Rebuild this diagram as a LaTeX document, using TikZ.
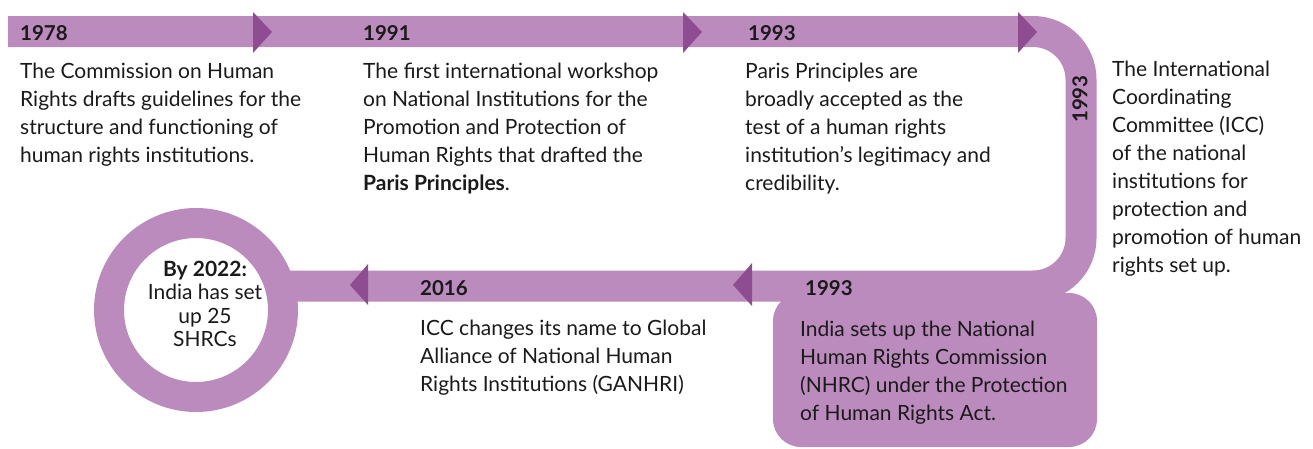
\documentclass[tikz,border=0pt]{standalone}
\usepackage{fontspec}
\setmainfont{Lato}
\definecolor{bandpurple}{RGB}{188,139,190}
\definecolor{tippurple}{RGB}{142,77,145}
\definecolor{inkgrey}{RGB}{26,26,26}

\begin{document}
\begin{tikzpicture}[x=1pt, y=-1pt,
    band/.style={draw=bandpurple, line width=31pt},
    tip/.style={fill=tippurple},
    year/.style={font=\fontsize{20.5}{22}\selectfont\bfseries, text=inkgrey, anchor=west, inner sep=0pt},
    desc/.style={font=\fontsize{21}{28}\selectfont, text=inkgrey, anchor=north west, align=left, inner sep=0pt}]
    \useasboundingbox (0,0) rectangle (1313,448);

    \draw[band, rounded corners=48] (8,31.5) -- (1081,31.5) -- (1081,286) -- (290,286);
    \draw[bandpurple, line width=30pt] (196,310) circle (87);
    \fill[bandpurple, rounded corners=28] (773,293) rectangle (1097,447);

    \fill[tip] (253,12) -- (272,32) -- (253,53) -- cycle;
    \fill[tip] (683,12) -- (702,32) -- (683,53) -- cycle;
    \fill[tip] (1018,12) -- (1037,32) -- (1018,53) -- cycle;
    \fill[tip] (752,263) -- (733,285) -- (752,306) -- cycle;
    \fill[tip] (368,264) -- (350,285) -- (368,305) -- cycle;

    \node[year] (y1978) at (20,33) {1978};
    \node[year] (y1991) at (363,33) {1991};
    \node[year] (y1993a) at (748,33) {1993};
    \node[year, rotate=90, anchor=center] (y1993b) at (1080,99) {1993};
    \node[year] (y1993c) at (805,288) {1993};
    \node[year] (y2016) at (420,288) {2016};

    \node[desc] (d1978) at (20,63) {The Commission on Human\\Rights drafts guidelines for the\\structure and functioning of\\human rights institutions.};
    \node[desc] (d1991) at (363,63) {The first international workshop\\on National Institutions for the\\Promotion and Protection of\\Human Rights that drafted the\\\textbf{Paris Principles}.};
    \node[desc] (d1993a) at (745,63) {Paris Principles are\\broadly accepted as the\\test of a human rights\\institution’s legitimacy and\\credibility.};
    \node[desc] (d1993b) at (1112,61) {The International\\Coordinating\\Committee (ICC)\\of the national\\institutions for\\protection and\\promotion of human\\rights set up.};
    \node[desc] (d2016) at (420,320) {ICC changes its name to Global\\Alliance of National Human\\Rights Institutions (GANHRI)};
    \node[desc] (d1993c) at (800,321) {India sets up the National\\Human Rights Commission\\(NHRC) under the Protection\\of Human Rights Act.};
    \node[font=\fontsize{21}{23.5}\selectfont, text=inkgrey, align=center, inner sep=0pt] (by2022) at (205,304) {\textbf{By 2022:}\\India has set\\up 25\\SHRCs};
\end{tikzpicture}
\end{document}
